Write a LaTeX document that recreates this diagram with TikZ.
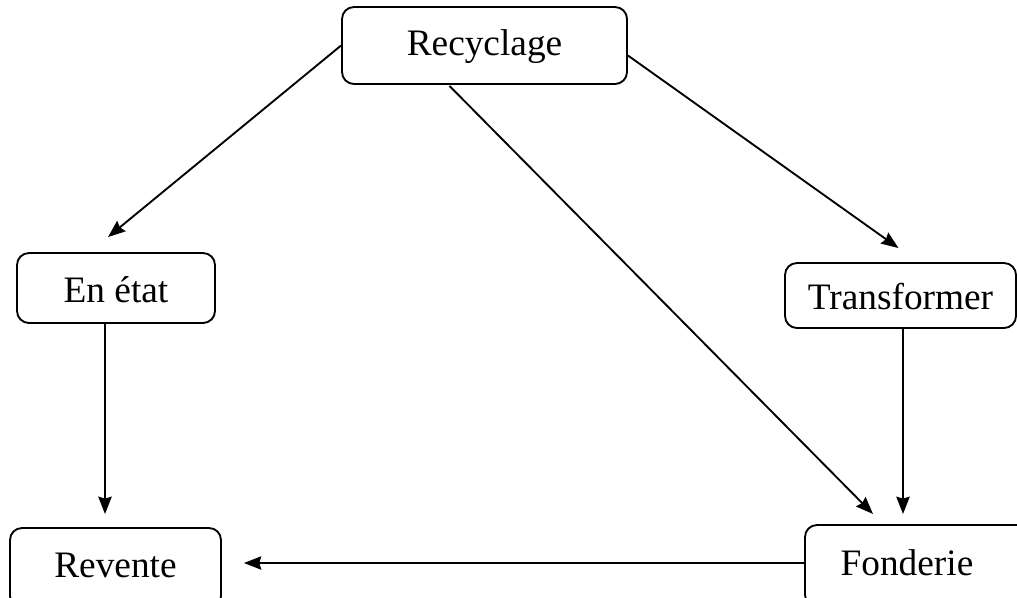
\documentclass[tikz,border=0pt]{standalone}
\usepackage{fontspec}
\setmainfont{Liberation Serif}
\usetikzlibrary{arrows.meta,calc}
\begin{document}
\begin{tikzpicture}[x=0.75pt,y=-0.75pt,
  box/.style={draw,line width=1.4pt,rounded corners=9pt,inner sep=0pt,font=\fontsize{28}{33}\selectfont},
  lbl/.style={inner sep=0pt,font=\fontsize{28}{33}\selectfont},
  conn/.style={line width=1.4pt,-{Stealth[length=13pt,width=10pt,inset=1.5pt]}}]
\useasboundingbox (0,0) rectangle (1017,597);
\node[box,minimum width=285*0.75pt,minimum height=77*0.75pt] (rec) at (484.5,45.5) {};
\node[lbl] (rect) at (484.5,47) {Recyclage};
\node[box,minimum width=198*0.75pt,minimum height=70*0.75pt] (en) at (116,288) {};
\node[lbl] (ent) at (116,290) {En état};
\node[box,minimum width=231*0.75pt,minimum height=65*0.75pt] (tr) at (900.5,295.5) {};
\node[lbl] (trt) at (900.5,297) {Transformer};
\node[box,minimum width=211*0.75pt,minimum height=80*0.75pt] (rev) at (115.5,568) {};
\node[lbl] (revt) at (115.5,565) {Revente};
\node[box,minimum width=225*0.75pt,minimum height=82*0.75pt] (fon) at (917.5,566) {};
\node[lbl] (font) at (907,563) {Fonderie};
\coordinate (a1) at ($(en.north)+(-8,-15)$);
\coordinate (a2s) at ($(rec.south)+(-35,1)$);
\coordinate (a2e) at (873,514);
\coordinate (a3s) at ($(rec.east)+(0,10)$);
\coordinate (a3e) at ($(tr.north)+(-2,-14)$);
\coordinate (a4s) at ($(en.south)+(-11,0)$);
\coordinate (a4e) at (105,514);
\coordinate (a5s) at ($(tr.south)+(2.5,0)$);
\coordinate (a5e) at (903,514);
\coordinate (a6s) at ($(fon.west)+(0,-3)$);
\coordinate (a6e) at ($(a6s -| rev.east)+(22,0)$);
\draw[conn] (rec.west) -- (a1);
\draw[conn] (a2s) -- (a2e);
\draw[conn] (a3s) -- (a3e);
\draw[conn] (a4s) -- (a4e);
\draw[conn] (a5s) -- (a5e);
\draw[conn] (a6s) -- (a6e);
\end{tikzpicture}
\end{document}
